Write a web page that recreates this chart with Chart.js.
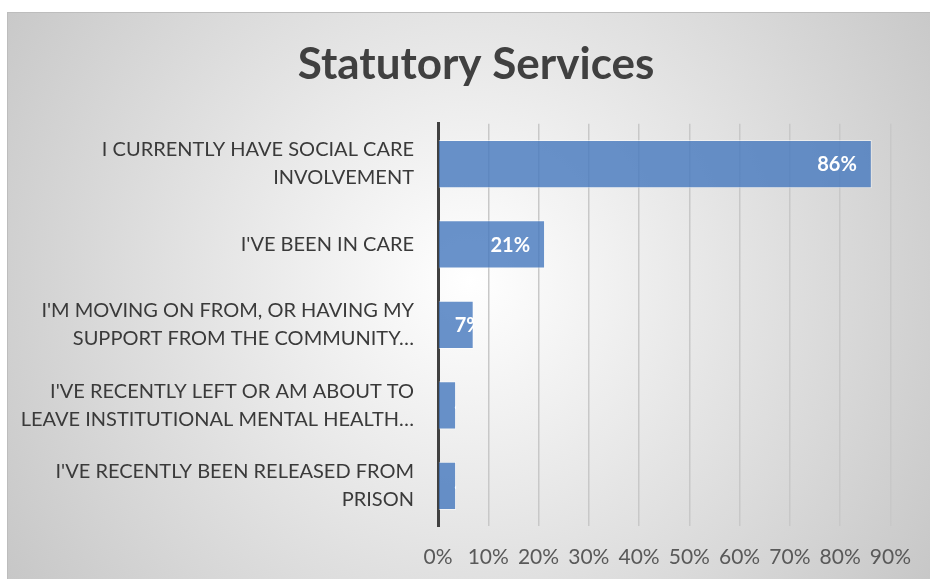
<!DOCTYPE html>
<html>
<head>
<meta charset="utf-8">
<script src="https://cdn.jsdelivr.net/npm/chart.js@4"></script>
<style>
  html, body { margin: 0; padding: 0; background: #ffffff; }
  #wrap { width: 930px; height: 579px; }
</style>
</head>
<body>
<div id="wrap"><canvas id="statChart" width="930" height="579"></canvas></div>
<script>
// Chart data
const categories = [
    ['I CURRENTLY HAVE SOCIAL CARE', 'INVOLVEMENT'],
    ["I'VE BEEN IN CARE"],
    ["I'M MOVING ON FROM, OR HAVING MY", 'SUPPORT FROM THE COMMUNITY…'],
    ["I'VE RECENTLY LEFT OR AM ABOUT TO", 'LEAVE INSTITUTIONAL MENTAL HEALTH…'],
    ["I'VE RECENTLY BEEN RELEASED FROM", 'PRISON']
];
const shares = [0.863, 0.213, 0.071, 0.036, 0.036];
const tickMax = 0.9;
const tickStep = 0.1;

// Grey radial panel behind the chart
const panelPlugin = {
    id: 'panel',
    afterLayout(chart) {
        // centre the title over the whole panel, not the padded box
        if (chart.titleBlock) {
            chart.titleBlock.left = 22;
            chart.titleBlock.right = 930;
        }
    },
    beforeDraw(chart) {
        const ctx = chart.ctx;
        ctx.save();
        const g = ctx.createRadialGradient(470, 280, 0, 470, 280, 560);
        g.addColorStop(0, '#ffffff');
        g.addColorStop(1, '#c6c6c6');
        ctx.fillStyle = g;
        ctx.fillRect(7, 12, 930, 579);
        ctx.strokeStyle = '#bdbdbd';
        ctx.lineWidth = 1;
        ctx.strokeRect(7.5, 12.5, 930, 579);
        ctx.restore();
    }
};

// White labels at the inside end of each bar, clipped to the bar
const barLabelPlugin = {
    id: 'barLabels',
    afterDatasetsDraw(chart) {
        const ctx = chart.ctx;
        const meta = chart.getDatasetMeta(0);
        ctx.save();
        ctx.font = 'bold 20px Lato';
        ctx.fillStyle = '#ffffff';
        ctx.textAlign = 'right';
        ctx.textBaseline = 'middle';
        meta.data.forEach(function(bar, i) {
            const p = bar.getProps(['x', 'y', 'base', 'height'], true);
            const text = Math.round(shares[i] * 100) + '%';
            const w = ctx.measureText(text).width;
            const right = Math.max(p.x - 15, p.base + 16 + w);
            ctx.save();
            ctx.beginPath();
            ctx.rect(p.base, p.y - p.height / 2, p.x - p.base, p.height);
            ctx.clip();
            ctx.fillText(text, right, p.y + 1);
            ctx.restore();
        });
        ctx.restore();
    }
};

const ctx = document.getElementById('statChart').getContext('2d');
new Chart(ctx, {
    type: 'bar',
    data: {
        labels: categories,
        datasets: [{
            data: shares,
            backgroundColor: 'rgba(72, 122, 190, 0.82)',
            borderColor: 'rgba(255, 255, 255, 0.5)',
            borderWidth: 1,
            barPercentage: 0.6,
            categoryPercentage: 1
        }]
    },
    options: {
        indexAxis: 'y',
        responsive: false,
        animation: false,
        layout: {
            padding: { left: 0, right: 39, top: 0, bottom: 0 }
        },
        plugins: {
            legend: { display: false },
            tooltip: { enabled: false },
            title: {
                display: true,
                text: 'Statutory Services',
                color: '#404040',
                font: { family: 'Lato', size: 44, weight: 'bold' },
                padding: { top: 38, bottom: 33 }
            }
        },
        scales: {
            x: {
                min: 0,
                max: tickMax,
                afterFit(scale) { scale.height = 53; },
                grid: {
                    color: '#c8c8c8',
                    lineWidth: 1.5,
                    drawTicks: false
                },
                border: { display: false },
                ticks: {
                    stepSize: tickStep,
                    padding: 19,
                    color: '#595959',
                    font: { family: 'Lato', size: 21 },
                    callback: function(v) { return Math.round(v * 100) + '%'; }
                }
            },
            y: {
                afterFit(scale) { scale.width = 438; },
                grid: { display: false, drawTicks: false },
                border: { display: true, color: '#404040', width: 3 },
                ticks: {
                    padding: 24,
                    color: '#3a3a3a',
                    font: { family: 'Lato', size: 20, lineHeight: 1.4 }
                }
            }
        }
    },
    plugins: [panelPlugin, barLabelPlugin]
});
</script>
</body>
</html>
